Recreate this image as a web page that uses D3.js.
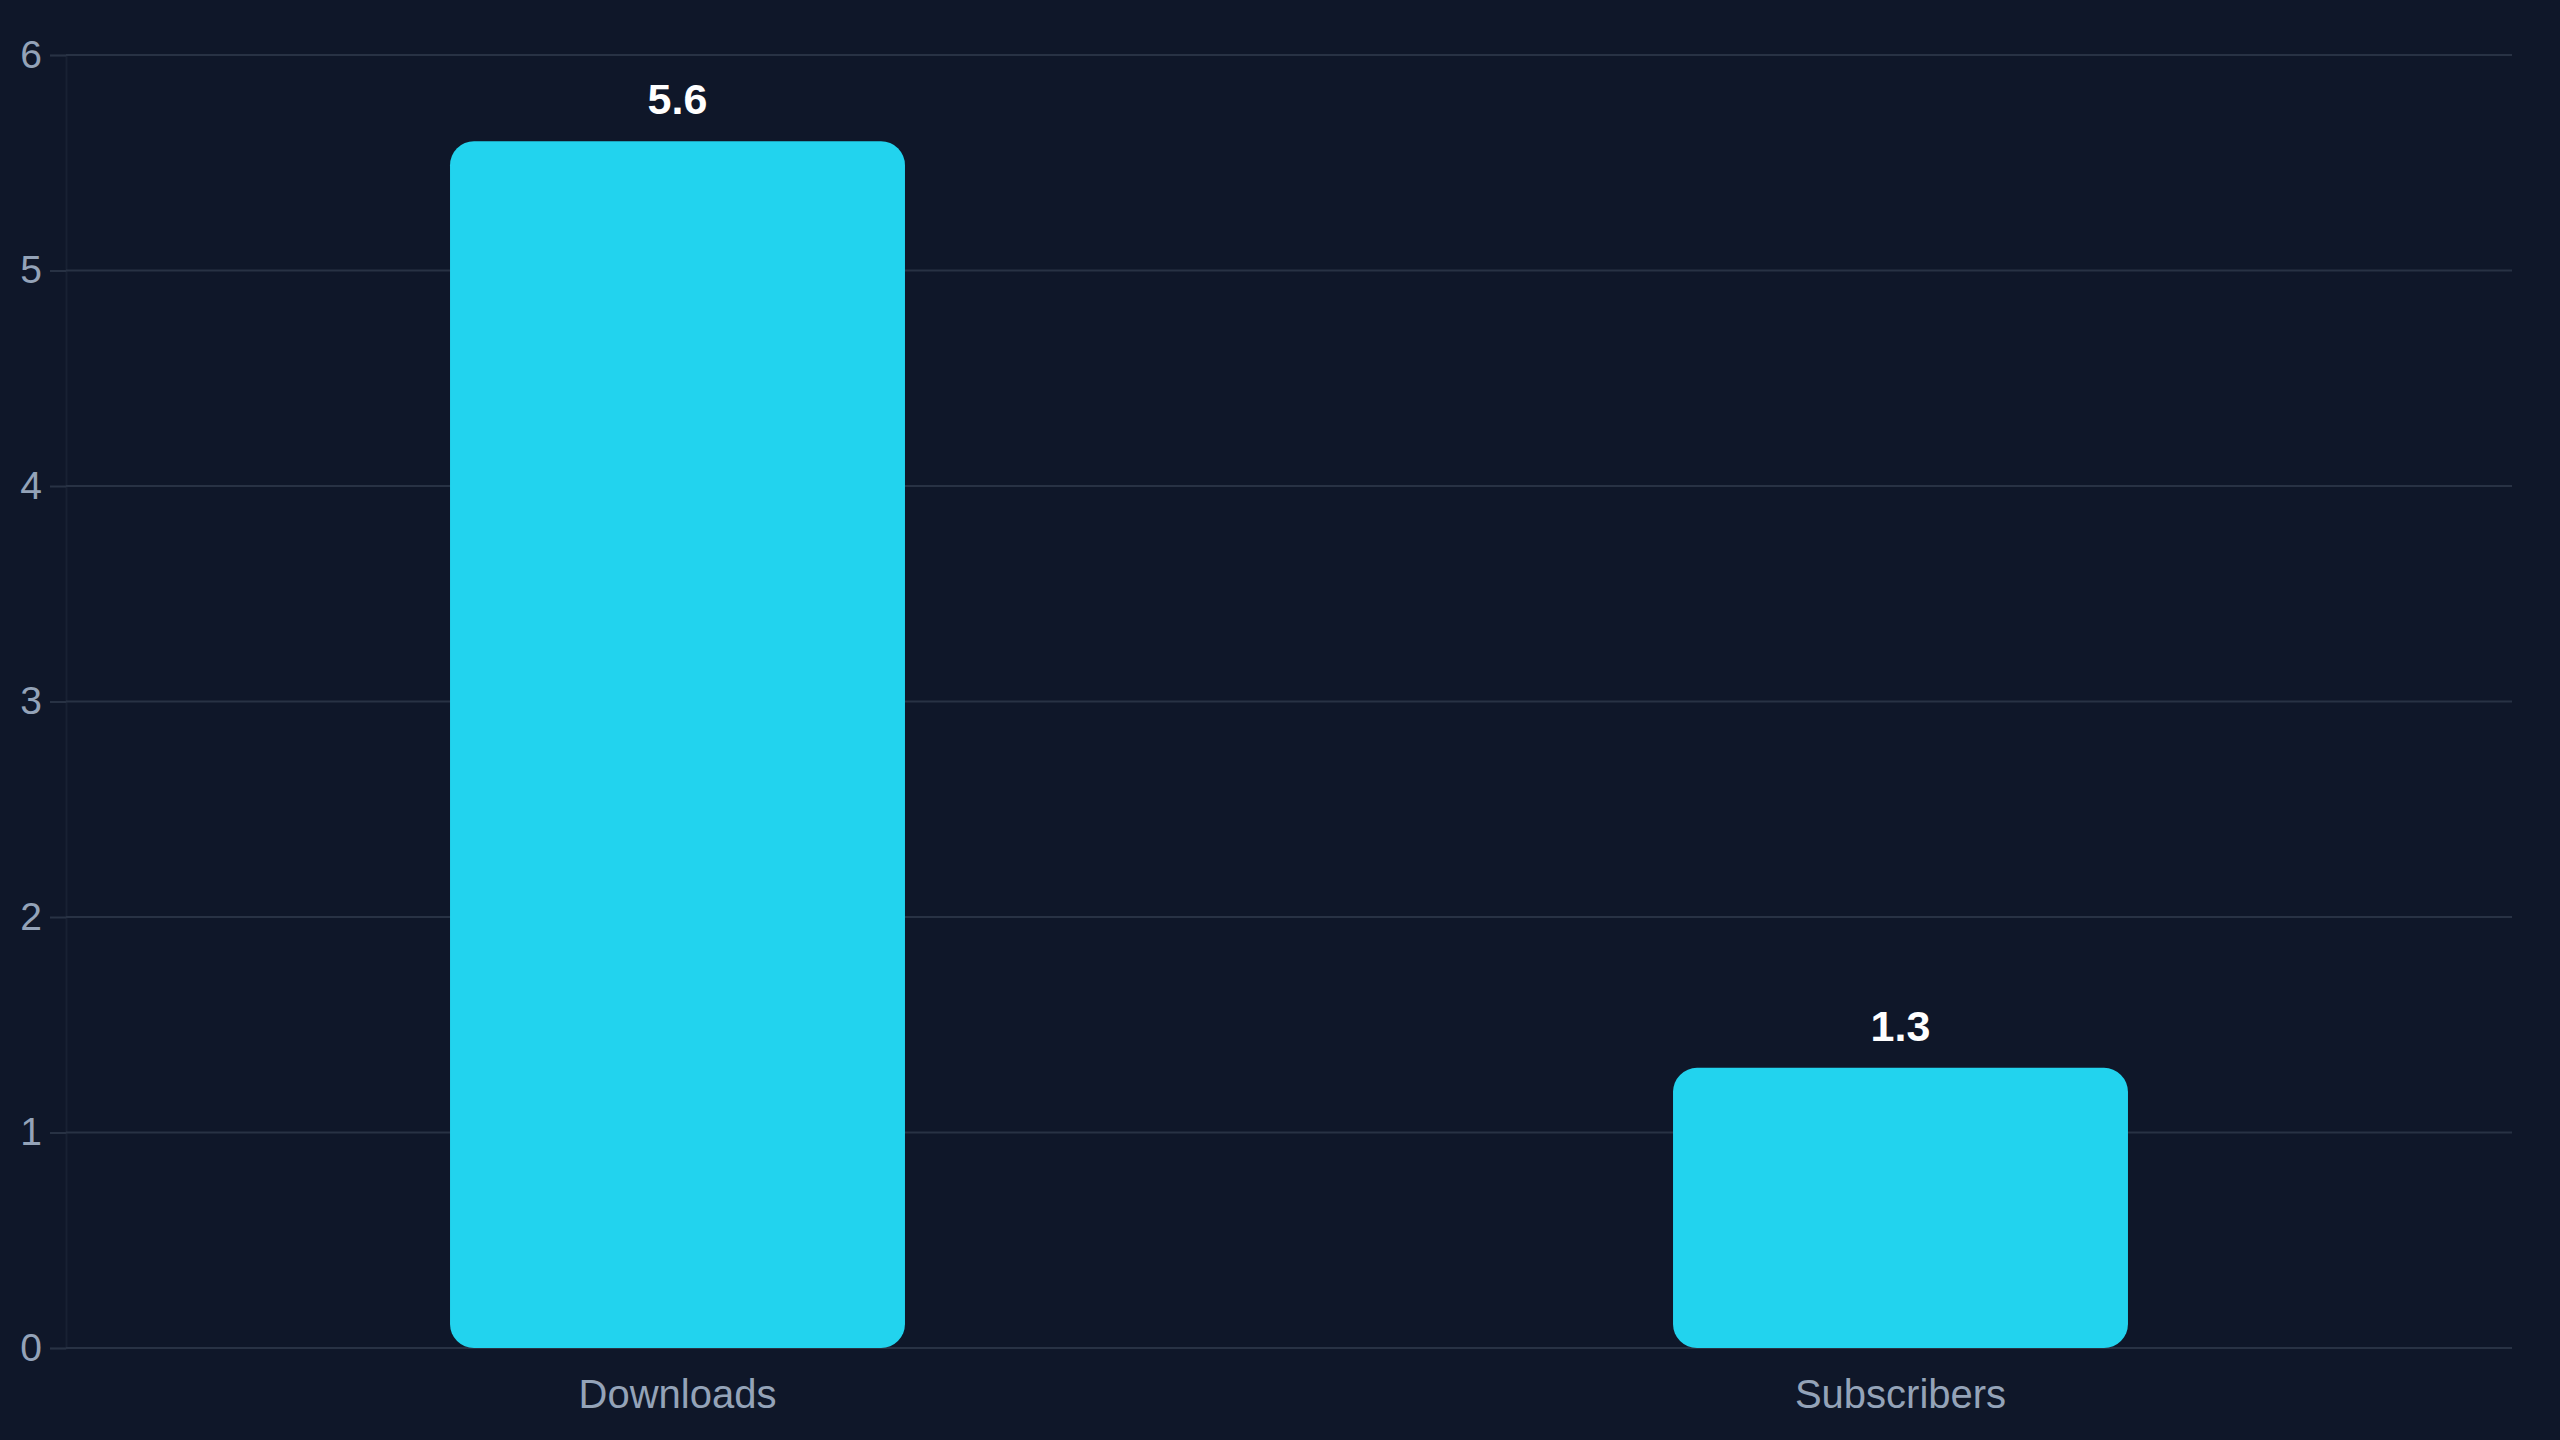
<!DOCTYPE html>
<html>
<head>
<meta charset="utf-8">
<script src="https://cdn.jsdelivr.net/npm/d3@7"></script>
<style>
  html, body { margin: 0; padding: 0; background: #0f1729; }
  svg { display: block; }
  text { font-family: "Liberation Sans", Arial, Helvetica, sans-serif; }
</style>
</head>
<body>
<div id="app"></div>
<script>
const categories = ['Downloads', 'Subscribers'];
const values = [5.6, 1.3];
const yTicks = [0, 1, 2, 3, 4, 5, 6];

const width = 2560;
const height = 1440;
const margin = { top: 55, right: 48, bottom: 92, left: 66 };

const COLORS = {
  bg: '#0f1729',
  bar: '#22d3ee',
  grid: '#283244',
  axis: '#182133',
  muted: '#94a3b8',
  label: '#ffffff',
};

const data = categories.map((c, i) => ({ name: c, value: values[i] }));

const x = d3
  .scaleBand()
  .domain(categories)
  .range([margin.left, width - margin.right])
  .paddingInner(0.628)
  .paddingOuter(0.314);

const y = d3
  .scaleLinear()
  .domain([0, 6])
  .range([height - margin.bottom, margin.top]);

const svg = d3
  .select('#app')
  .append('svg')
  .attr('width', width)
  .attr('height', height)
  .style('background', COLORS.bg);

// grid + y axis
const yAxis = svg
  .append('g')
  .attr('transform', `translate(${margin.left},0)`)
  .call(
    d3.axisLeft(y).tickValues(yTicks).tickFormat(d3.format('d')).tickSize(16).tickPadding(8)
  );

yAxis.select('.domain').attr('stroke', COLORS.axis).attr('stroke-width', 2);
yAxis.selectAll('.tick line').attr('stroke', COLORS.grid).attr('stroke-width', 2);
yAxis
  .selectAll('.tick text')
  .attr('fill', COLORS.muted)
  .style('font-size', '39px');

svg
  .append('g')
  .selectAll('line')
  .data(yTicks)
  .join('line')
  .attr('x1', margin.left)
  .attr('x2', width - margin.right)
  .attr('y1', (d) => y(d))
  .attr('y2', (d) => y(d))
  .attr('stroke', COLORS.grid)
  .attr('stroke-width', 2);

// bars
svg
  .append('g')
  .selectAll('rect')
  .data(data)
  .join('rect')
  .attr('x', (d) => x(d.name))
  .attr('y', (d) => y(d.value))
  .attr('width', x.bandwidth())
  .attr('height', (d) => y(0) - y(d.value))
  .attr('rx', 24)
  .attr('ry', 24)
  .attr('fill', COLORS.bar);

// value labels
svg
  .append('g')
  .selectAll('text')
  .data(data)
  .join('text')
  .attr('x', (d) => x(d.name) + x.bandwidth() / 2)
  .attr('y', (d) => y(d.value) - 27)
  .attr('text-anchor', 'middle')
  .attr('fill', COLORS.label)
  .style('font-size', '43px')
  .style('font-weight', 'bold')
  .text((d) => d.value);

// category axis
const xAxis = svg
  .append('g')
  .attr('transform', `translate(0,${y(0)})`)
  .call(d3.axisBottom(x).tickSize(0).tickPadding(0));

xAxis.select('.domain').remove();
xAxis
  .selectAll('.tick text')
  .attr('dy', null)
  .attr('y', 60)
  .attr('fill', COLORS.muted)
  .style('font-size', '40px');
</script>
</body>
</html>
